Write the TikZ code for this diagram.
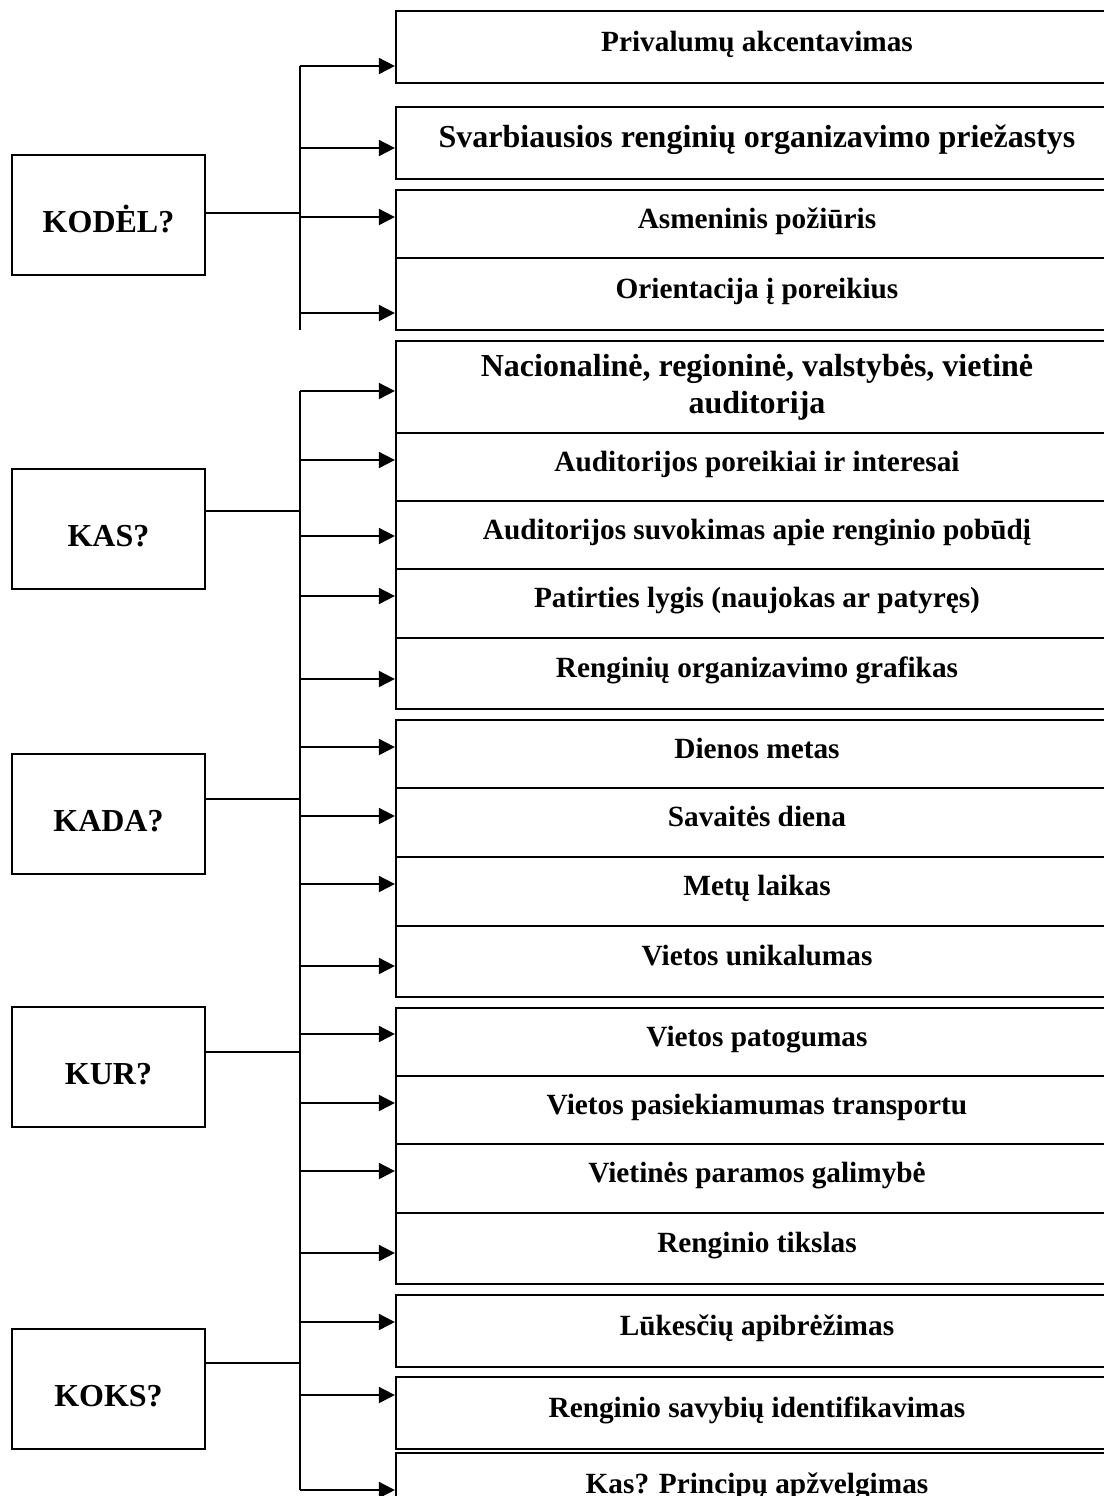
\documentclass[tikz,border=0pt]{standalone}
\usepackage{fontspec}
\setmainfont{Liberation Serif}
\usetikzlibrary{arrows.meta}

\tikzset{
  question/.style={draw, line width=1.1pt, minimum width=96.5pt, minimum height=60pt,
    inner sep=0pt, font=\fontsize{16}{18}\selectfont\bfseries,
    text height=17.6pt, text depth=0pt},
  widebox/.style={draw, line width=1.1pt, minimum width=361pt, inner sep=0pt,
    font=\fontsize{14.65}{17}\selectfont\bfseries},
  itembox/.style={widebox, text height=10.3pt, text depth=5.9pt},
  bigbox/.style={itembox, font=\fontsize{16}{18.5}\selectfont\bfseries},
  link/.style={line width=0.9pt},
  pointer/.style={line width=0.9pt, -{Triangle[length=8pt, width=8pt]}}
}

\begin{document}
\begin{tikzpicture}[x=0.5pt, y=-0.5pt]
    \clip (0,0) rectangle (1104,1496);
    \fill[white] (0,0) rectangle (1104,1496);

    \node[question] (kodel) at (108.5, 215) {KODĖL?};
    \node[question] (kas) at (108.5, 529) {KAS?};
    \node[question] (kada) at (108.5, 814) {KADA?};
    \node[question] (kur) at (108.5, 1067) {KUR?};
    \node[question] (koks) at (108.5, 1389) {KOKS?};

    \node[itembox, minimum height=36pt] (p1) at (757, 47) {Privalumų akcentavimas};
    \node[bigbox, minimum height=36pt] (p2) at (757, 143) {Svarbiausios renginių organizavimo priežastys};
    \node[itembox, minimum height=34pt] (p3) at (757, 224) {Asmeninis požiūris};
    \node[itembox, minimum height=36pt] (p4) at (757, 294) {Orientacija į poreikius};

    \node[widebox, minimum height=46pt, align=center, font=\fontsize{16}{18.5}\selectfont\bfseries] (s1) at (757, 387)
        {Nacionalinė, regioninė, valstybės, vietinė\\auditorija};
    \node[itembox, minimum height=34pt] (s2) at (757, 467) {Auditorijos poreikiai ir interesai};
    \node[itembox, minimum height=34pt] (s3) at (757, 535) {Auditorijos suvokimas apie renginio pobūdį};
    \node[itembox, minimum height=34.5pt] (s4) at (757, 603.5) {Patirties lygis (naujokas ar patyręs)};
    \node[itembox, minimum height=35.5pt] (s5) at (757, 673.5) {Renginių organizavimo grafikas};

    \node[itembox, minimum height=34pt] (d1) at (757, 754) {Dienos metas};
    \node[itembox, minimum height=34.5pt] (d2) at (757, 822.5) {Savaitės diena};
    \node[itembox, minimum height=34.5pt] (d3) at (757, 891.5) {Metų laikas};
    \node[itembox, minimum height=35.5pt] (d4) at (757, 961.5) {Vietos unikalumas};

    \node[itembox, minimum height=34pt] (r1) at (757, 1042) {Vietos patogumas};
    \node[itembox, minimum height=34pt] (r2) at (757, 1110) {Vietos pasiekiamumas transportu};
    \node[itembox, minimum height=34.5pt] (r3) at (757, 1178.5) {Vietinės paramos galimybė};
    \node[itembox, minimum height=35.5pt] (r4) at (757, 1248.5) {Renginio tikslas};

    \node[itembox, minimum height=36pt] (k1) at (757, 1331) {Lūkesčių apibrėžimas};
    \node[itembox, minimum height=36pt] (k2) at (757, 1413) {Renginio savybių identifikavimas};
    \node[itembox, minimum height=36pt] (k3) at (757, 1489) {Kas? Principų apžvelgimas};

    \coordinate (j1) at (300, 213);
    \coordinate (j2) at (300, 511);
    \coordinate (j3) at (300, 799);
    \coordinate (j4) at (300, 1052);
    \coordinate (j5) at (300, 1363);

    \draw[link] (kodel.east |- j1) -- (j1);
    \draw[link] (kas.east |- j2) -- (j2);
    \draw[link] (kada.east |- j3) -- (j3);
    \draw[link] (kur.east |- j4) -- (j4);
    \draw[link] (koks.east |- j5) -- (j5);

    \coordinate (a1) at (300, 66);
    \coordinate (a2) at (300, 148);
    \coordinate (a3) at (300, 217);
    \coordinate (a4) at (300, 313);
    \coordinate (a5) at (300, 330);

    \draw[link] (a1) -- (a5);
    \draw[pointer] (a1) -- (a1 -| p1.west);
    \draw[pointer] (a2) -- (a2 -| p2.west);
    \draw[pointer] (a3) -- (a3 -| p3.west);
    \draw[pointer] (a4) -- (a4 -| p4.west);

    \coordinate (b1) at (300, 391);
    \coordinate (b2) at (300, 460);
    \coordinate (b3) at (300, 536);
    \coordinate (b4) at (300, 596);
    \coordinate (b5) at (300, 679);
    \coordinate (b6) at (300, 747);
    \coordinate (b7) at (300, 816);
    \coordinate (b8) at (300, 884);
    \coordinate (b9) at (300, 966);
    \coordinate (b10) at (300, 1034);
    \coordinate (b11) at (300, 1103);
    \coordinate (b12) at (300, 1171);
    \coordinate (b13) at (300, 1253);
    \coordinate (b14) at (300, 1322);
    \coordinate (b15) at (300, 1395);
    \coordinate (b16) at (300, 1490);

    \draw[link] (b1) -- (b16);
    \draw[pointer] (b1) -- (b1 -| s1.west);
    \draw[pointer] (b2) -- (b2 -| s2.west);
    \draw[pointer] (b3) -- (b3 -| s3.west);
    \draw[pointer] (b4) -- (b4 -| s4.west);
    \draw[pointer] (b5) -- (b5 -| s5.west);
    \draw[pointer] (b6) -- (b6 -| d1.west);
    \draw[pointer] (b7) -- (b7 -| d2.west);
    \draw[pointer] (b8) -- (b8 -| d3.west);
    \draw[pointer] (b9) -- (b9 -| d4.west);
    \draw[pointer] (b10) -- (b10 -| r1.west);
    \draw[pointer] (b11) -- (b11 -| r2.west);
    \draw[pointer] (b12) -- (b12 -| r3.west);
    \draw[pointer] (b13) -- (b13 -| r4.west);
    \draw[pointer] (b14) -- (b14 -| k1.west);
    \draw[pointer] (b15) -- (b15 -| k2.west);
    \draw[pointer] (b16) -- (b16 -| k3.west);

  \end{tikzpicture}
\end{document}
